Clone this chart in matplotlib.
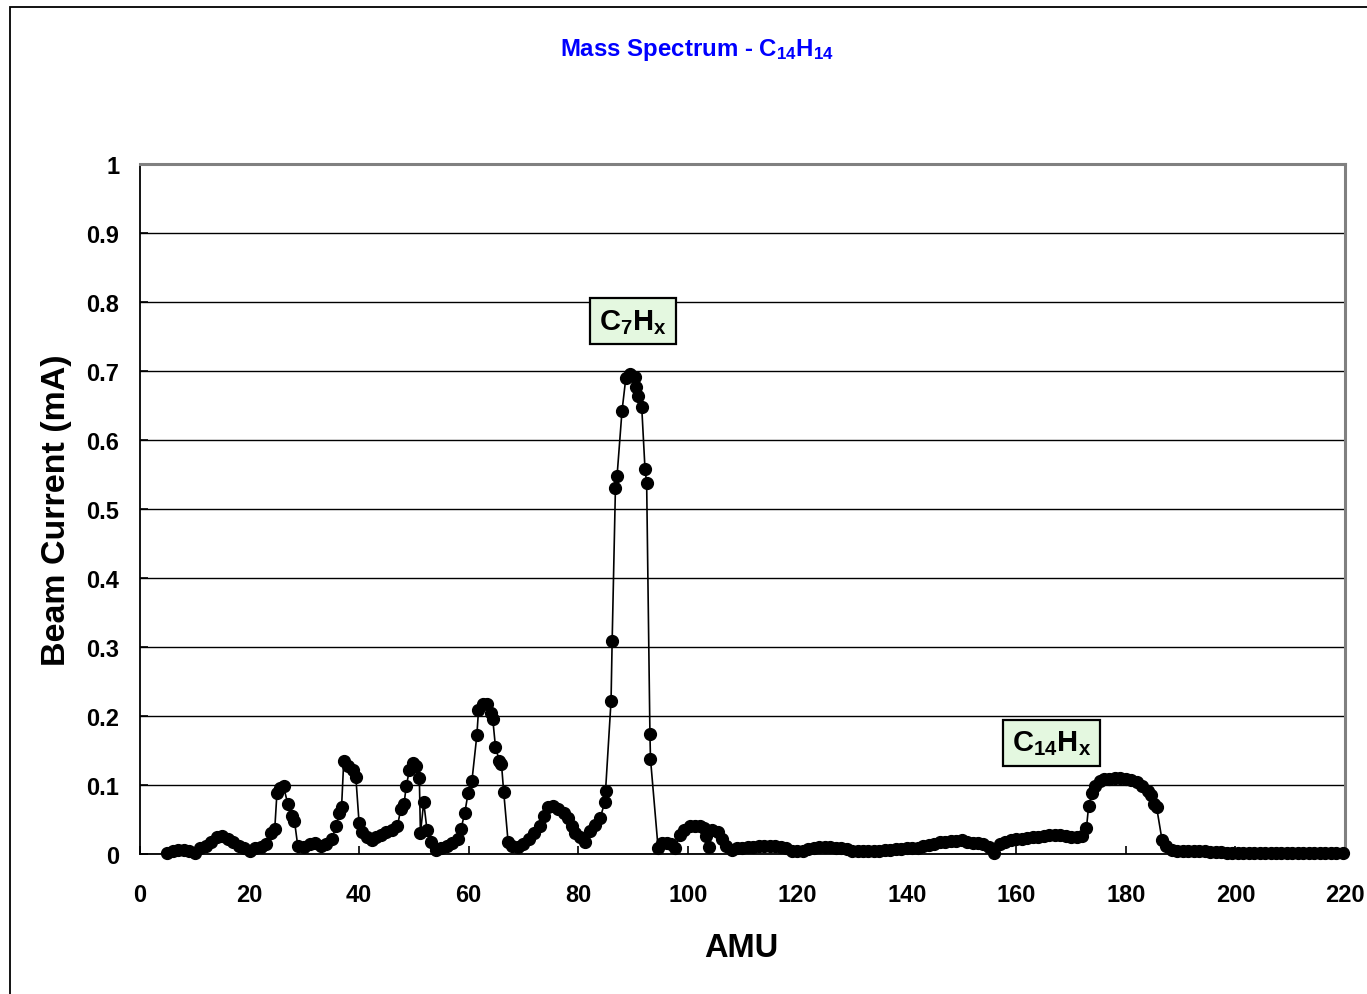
import matplotlib
matplotlib.use("Agg")
import matplotlib.pyplot as plt
from matplotlib.patches import Rectangle

plt.rcParams['font.family'] = ['Liberation Sans', 'DejaVu Sans']

# ---- data, 10 values per line ----
amu = [5, 6, 7, 8, 9, 10, 11, 12, 13, 14,
       15, 16, 17, 18, 19, 20, 21, 22, 23, 24,
       24.6, 25, 25.6, 26.2, 27, 27.8, 28.2, 28.8, 30, 31,
       32, 33, 34, 35, 35.8, 36.4, 36.8, 37.2, 38, 38.8,
       39.4, 40, 40.6, 41.5, 42.3, 43, 44, 45, 46, 47,
       47.6, 48.2, 48.6, 49.2, 49.8, 50.4, 51, 51.2, 51.8, 52.4,
       53.2, 54, 55, 56, 57, 58, 58.6, 59.3, 59.9, 60.6,
       61.5, 61.8, 62.6, 63.4, 64, 64.4, 64.9, 65.6, 66, 66.4,
       67.2, 68, 69, 70, 71, 72, 73, 73.8, 74.4, 75.4,
       76.4, 77.4, 78.2, 78.8, 79.5, 80.3, 81.2, 82.2, 83, 84,
       84.9, 85, 86, 86.2, 86.8, 87.1, 88, 88.7, 89.5, 90.3,
       90.6, 90.9, 91.6, 92.2, 92.5, 93.1, 93.2, 94.6, 95.3, 96.2,
       97, 97.7, 98.6, 99.4, 100.4, 101.3, 102.2, 103, 103.3, 103.8,
       104.4, 105.5, 106.3, 107, 108, 109, 110, 111, 112, 113,
       114, 115, 116, 117, 118, 119, 120, 121, 122, 123,
       124, 125, 126, 127, 128, 129, 130, 131, 132, 133,
       134, 135, 136, 137, 138, 139, 140, 141, 142, 143,
       144, 145, 146, 147, 148, 149, 150, 151, 152, 153,
       154, 155, 156, 157, 158, 159, 160, 161, 162, 163,
       164, 165, 166, 167, 168, 169, 170, 171, 172, 172.8,
       173.2, 173.8, 174.4, 175.2, 176, 177, 178, 179, 180, 181,
       182, 183, 184, 184.6, 185.2, 185.6, 186.6, 187.4, 188.4, 189.4,
       190.4, 191.4, 192.4, 193.4, 194.4, 195.4, 196.4, 197.4, 198.4, 199.4,
       200.4, 201.4, 202.4, 203.4, 204.4, 205.4, 206.4, 207.4, 208.4, 209.4,
       210.4, 211.4, 212.4, 213.4, 214.4, 215.4, 216.4, 217.4, 218.4, 219.6]

current = [0.002, 0.004, 0.006, 0.006, 0.004, 0.002, 0.008, 0.012, 0.018, 0.024,
           0.026, 0.022, 0.018, 0.012, 0.008, 0.005, 0.008, 0.010, 0.015, 0.030,
           0.036, 0.088, 0.095, 0.098, 0.072, 0.055, 0.048, 0.012, 0.010, 0.014,
           0.016, 0.012, 0.014, 0.022, 0.040, 0.060, 0.068, 0.135, 0.128, 0.122,
           0.112, 0.045, 0.032, 0.025, 0.020, 0.025, 0.028, 0.032, 0.035, 0.040,
           0.065, 0.072, 0.098, 0.122, 0.132, 0.128, 0.110, 0.030, 0.075, 0.035,
           0.018, 0.006, 0.008, 0.012, 0.016, 0.022, 0.036, 0.060, 0.088, 0.106,
           0.172, 0.208, 0.218, 0.218, 0.205, 0.196, 0.155, 0.135, 0.130, 0.090,
           0.018, 0.012, 0.010, 0.014, 0.022, 0.030, 0.040, 0.055, 0.068, 0.070,
           0.065, 0.060, 0.052, 0.040, 0.030, 0.025, 0.018, 0.034, 0.042, 0.052,
           0.076, 0.092, 0.222, 0.308, 0.530, 0.548, 0.642, 0.690, 0.696, 0.692,
           0.677, 0.664, 0.648, 0.558, 0.538, 0.174, 0.138, 0.008, 0.016, 0.016,
           0.015, 0.008, 0.028, 0.035, 0.040, 0.040, 0.040, 0.037, 0.026, 0.010,
           0.035, 0.032, 0.022, 0.012, 0.006, 0.008, 0.009, 0.010, 0.010, 0.011,
           0.011, 0.011, 0.011, 0.010, 0.008, 0.004, 0.004, 0.005, 0.007, 0.009,
           0.010, 0.010, 0.010, 0.009, 0.008, 0.007, 0.005, 0.004, 0.004, 0.004,
           0.005, 0.005, 0.006, 0.006, 0.007, 0.007, 0.008, 0.008, 0.009, 0.011,
           0.013, 0.015, 0.017, 0.018, 0.019, 0.019, 0.020, 0.018, 0.016, 0.016,
           0.014, 0.010, 0.002, 0.014, 0.018, 0.020, 0.022, 0.022, 0.023, 0.024,
           0.025, 0.026, 0.028, 0.028, 0.027, 0.026, 0.025, 0.024, 0.026, 0.038,
           0.070, 0.088, 0.098, 0.106, 0.108, 0.109, 0.110, 0.110, 0.109, 0.107,
           0.104, 0.098, 0.092, 0.086, 0.072, 0.068, 0.020, 0.012, 0.006, 0.005,
           0.005, 0.005, 0.004, 0.004, 0.004, 0.003, 0.003, 0.003, 0.002, 0.002,
           0.002, 0.002, 0.002, 0.002, 0.002, 0.002, 0.002, 0.002, 0.002, 0.002,
           0.002, 0.002, 0.002, 0.002, 0.002, 0.002, 0.002, 0.002, 0.002, 0.002]

x_ticks = [0, 20, 40, 60, 80, 100, 120, 140, 160, 180, 200, 220]
y_ticks = [0, 0.1, 0.2, 0.3, 0.4, 0.5, 0.6, 0.7, 0.8, 0.9, 1]
y_tick_labels = ['0', '0.1', '0.2', '0.3', '0.4', '0.5', '0.6', '0.7', '0.8', '0.9', '1']

title = r'Mass Spectrum - C$_{\mathbf{14}}$H$_{\mathbf{14}}$'
x_label = 'AMU'
y_label = 'Beam Current (mA)'
annotations = [(r'C$_{\mathbf{7}}$H$_{\mathbf{x}}$', 90.0, 0.772),
               (r'C$_{\mathbf{14}}$H$_{\mathbf{x}}$', 166.4, 0.161)]

# ---- figure ----
W, H = 1367, 995
plt.rcParams['mathtext.fontset'] = 'custom'
plt.rcParams['mathtext.rm'] = 'Liberation Sans:bold'
plt.rcParams['mathtext.bf'] = 'Liberation Sans:bold'
plt.rcParams['mathtext.it'] = 'Liberation Sans:bold'
fig = plt.figure(figsize=(W / 100, H / 100), dpi=100)

# outer chart border
fig.patches.append(Rectangle((10 / W, -0.1), 1.2, 1 - 8 / H + 0.1,
                             transform=fig.transFigure, fill=False,
                             edgecolor='black', linewidth=1.3))

left, right = 140 / W, 1345 / W
bottom, top = 1 - 855 / H, 1 - 165 / H
ax = fig.add_axes([left, bottom, right - left, top - bottom])

ax.plot(amu, current, color='black', linewidth=1.2, marker='o',
        markersize=8.5, markerfacecolor='black', markeredgecolor='black',
        zorder=3, clip_on=False)

ax.set_xlim(0, 220)
ax.set_ylim(0, 1)
ax.set_xticks(x_ticks)
ax.set_yticks(y_ticks)
ax.set_yticklabels(y_tick_labels)
ax.yaxis.grid(True, color='black', linewidth=1.0, zorder=0)
ax.set_axisbelow(True)

ax.tick_params(axis='both', direction='in', length=6, width=1.2,
               labelsize=17, colors='black')
ax.tick_params(axis='x', pad=21)
ax.tick_params(axis='y', pad=15)
for lab in ax.get_xticklabels() + ax.get_yticklabels():
    lab.set_fontweight('bold')

for s in ['left', 'bottom']:
    ax.spines[s].set_color('black')
    ax.spines[s].set_linewidth(1.3)
for s in ['top', 'right']:
    ax.spines[s].set_color('#808080')
    ax.spines[s].set_linewidth(2.2)

fig.text(741 / W, 1 - 949 / H, x_label, fontsize=23.5, fontweight='bold',
         ha='center', va='center')
fig.text(57 / W, 1 - 510 / H, y_label, fontsize=24.5, fontweight='bold',
         ha='center', va='center', rotation=90)

fig.text(697 / W, 1 - 50 / H, title, color='#0000ff', fontsize=17.3,
         fontweight='bold', ha='center', va='center')

for txt, xv, yv in annotations:
    ax.text(xv, yv, txt, fontsize=21, fontweight='bold', ha='center',
            va='center', zorder=5,
            bbox=dict(boxstyle='square,pad=0.3', facecolor='#e4f8e0',
                      edgecolor='black', linewidth=1.6))

fig.savefig('out.png', dpi=100)
